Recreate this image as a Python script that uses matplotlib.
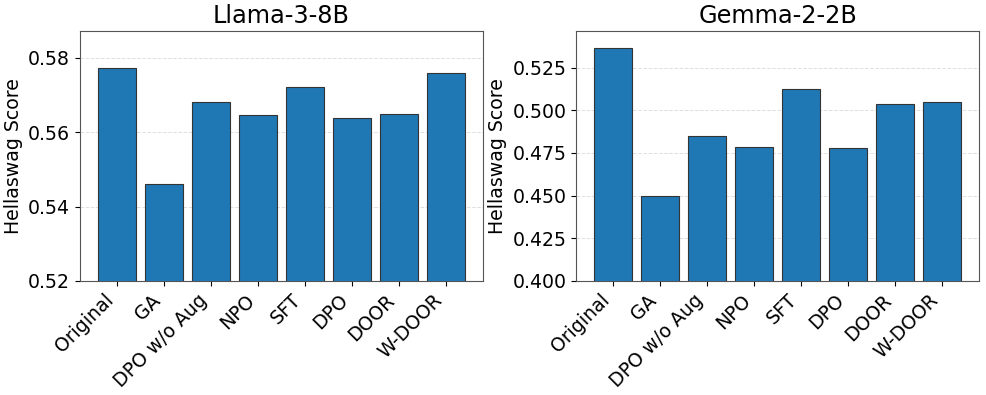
import numpy as np
import matplotlib
matplotlib.use('Agg')
import matplotlib.pyplot as plt

methods = ['Original', 'GA', 'DPO w/o Aug', 'NPO', 'SFT', 'DPO', 'DOOR', 'W-DOOR']
llama_scores = [0.5772, 0.5461, 0.5681, 0.5647, 0.5721, 0.5639, 0.5648, 0.5759]
gemma_scores = [0.5363, 0.4500, 0.4848, 0.4783, 0.5127, 0.4779, 0.5037, 0.5049]
titles = ['Llama-3-8B', 'Gemma-2-2B']
lower = [0.52, 0.40]
yticks = [[0.52, 0.54, 0.56, 0.58], [0.400, 0.425, 0.450, 0.475, 0.500, 0.525]]
ytick_fmt = ['{:.2f}', '{:.3f}']

fig, axes = plt.subplots(1, 2, figsize=(9.87, 3.95), dpi=100)
x = np.arange(len(methods))

for ax, scores, title, lo, yt, fmt in zip(axes, [llama_scores, gemma_scores], titles, lower, yticks, ytick_fmt):
    ax.bar(x, scores, width=0.8, color='#1f77b4', edgecolor='#333333', linewidth=0.8, zorder=3)
    ax.set_ylim(lo, max(scores) + 0.01)
    ax.set_title(title, fontsize=17.3)
    ax.set_ylabel('Hellaswag Score', fontsize=13.6)
    ax.set_xticks(x)
    ax.set_xticklabels(methods, rotation=45, ha='right', fontsize=13.6)
    ax.set_yticks(yt)
    ax.set_yticklabels([fmt.format(v) for v in yt], fontsize=13.6)
    ax.grid(axis='y', linestyle='--', alpha=0.4, linewidth=0.7, zorder=0)
    for s in ax.spines.values():
        s.set_color('#555555')

plt.subplots_adjust(left=0.081, right=0.992, top=0.921, bottom=0.289, wspace=0.231)
plt.savefig('out.png', dpi=100)
